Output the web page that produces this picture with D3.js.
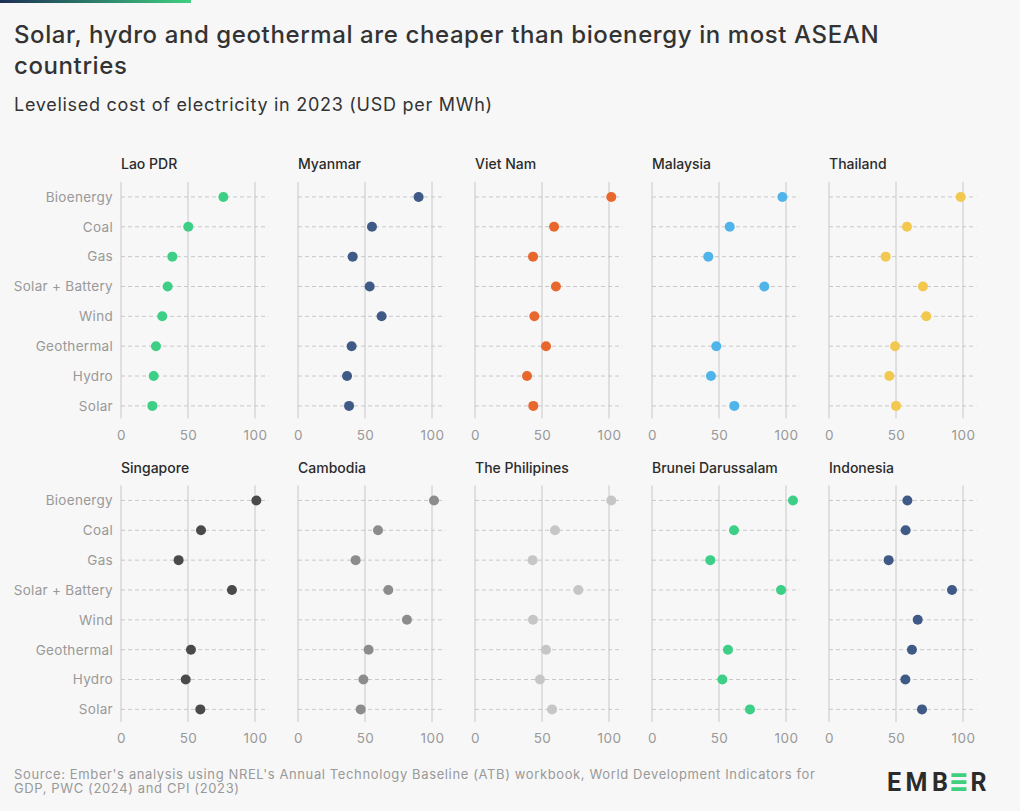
<!DOCTYPE html>
<html>
<head>
<meta charset="utf-8">
<script src="https://cdn.jsdelivr.net/npm/d3@7"></script>
<style>
  html, body { margin: 0; padding: 0; background: #f7f7f7; }
  svg { display: block; font-family: Inter, "Noto Sans", sans-serif; }
</style>
</head>
<body>
<svg id="chart" width="1020" height="811"></svg>
<script>
// ---- data ----
const technologies = ["Bioenergy", "Coal", "Gas", "Solar + Battery", "Wind", "Geothermal", "Hydro", "Solar"];
const countries = ["Lao PDR", "Myanmar", "Viet Nam", "Malaysia", "Thailand",
                   "Singapore", "Cambodia", "The Philipines", "Brunei Darussalam", "Indonesia"];
const countryColors = ["#3ccf85", "#3f5a87", "#e8672c", "#50b4ea", "#f2c84f",
                       "#4a4a4a", "#8c8c8c", "#c6c6c6", "#3ccf85", "#3f5a87"];
// LCOE, USD/MWh, order as technologies; null = no value
const laoPDR      = [76.4, 50.2, 38.3, 34.8, 30.8, 26.1, 24.4, 23.4];
const myanmar     = [90.0, 55.2, 40.8, 53.5, 62.4, 40.0, 36.6, 38.1];
const vietNam     = [101.7, 59.0, 43.3, 60.4, 44.3, 53.0, 38.8, 43.5];
const malaysia    = [97.3, 58.0, 42.0, 83.8, null, 48.0, 44.0, 61.4];
const thailand    = [98.3, 58.2, 42.3, 70.1, 72.6, 49.3, 45.0, 50.0];
const singapore   = [101.0, 59.7, 43.0, 82.8, null, 52.2, 48.3, 59.2];
const cambodia    = [101.5, 59.7, 43.0, 67.4, 81.3, 52.7, 48.8, 46.8];
const philippines = [101.7, 59.7, 43.0, 77.1, 43.3, 53.0, 48.5, 57.5];
const brunei      = [105.2, 61.2, 43.5, 96.3, null, 56.7, 52.5, 73.1];
const indonesia   = [58.5, 57.2, 44.5, 91.8, 66.2, 61.9, 57.0, 69.4];
const seriesValues = [laoPDR, myanmar, vietNam, malaysia, thailand,
                      singapore, cambodia, philippines, brunei, indonesia];
const xTicks = [0, 50, 100];
const xDomain = [0, 110];

const titleText1 = "Solar, hydro and geothermal are cheaper than bioenergy in most ASEAN";
const titleText2 = "countries";
const subtitleText = "Levelised cost of electricity in 2023 (USD per MWh)";
const sourceLine1 = "Source: Ember's analysis using NREL's Annual Technology Baseline (ATB) workbook, World Development Indicators for";
const sourceLine2 = "GDP, PWC (2024) and CPI (2023)";

// ---- layout ----
const svg = d3.select("#chart");
const W = 1020, H = 811;
const FONT = "Inter, 'Noto Sans', sans-serif";
svg.append("rect").attr("width", W).attr("height", H).attr("fill", "#f7f7f7");

const grad = svg.append("defs").append("linearGradient").attr("id", "topbar");
grad.append("stop").attr("offset", "0%").attr("stop-color", "#1c2f55");
grad.append("stop").attr("offset", "100%").attr("stop-color", "#3ecf80");
svg.append("rect").attr("x", 0).attr("y", 0).attr("width", 191).attr("height", 3).attr("fill", "url(#topbar)");

svg.append("text").attr("x", 14).attr("y", 42.5).attr("font-size", 24).attr("font-weight", 500)
  .attr("letter-spacing", 0.6).attr("fill", "#333").text(titleText1);
svg.append("text").attr("x", 14).attr("y", 73.5).attr("font-size", 24).attr("font-weight", 500)
  .attr("letter-spacing", 0.6).attr("fill", "#333").text(titleText2);
svg.append("text").attr("x", 14).attr("y", 111).attr("font-size", 18).attr("font-weight", 400)
  .attr("letter-spacing", 0.72).attr("fill", "#333").text(subtitleText);

const colX0 = [121, 298, 475, 652, 829];
const rowTop = [182, 485.5];
const panelW = 147.4;
const panelH = 238.8;

const x = d3.scaleLinear().domain(xDomain).range([0, panelW]);
const y = d3.scalePoint().domain(technologies).range([0, panelH]).padding(0.5);

countries.forEach((country, i) => {
  const col = i % 5, row = Math.floor(i / 5);
  const g = svg.append("g").attr("transform", `translate(${colX0[col]},${rowTop[row]})`);
  const yFirst = y(technologies[0]), yLast = y(technologies[technologies.length - 1]);

  // vertical grid lines
  g.selectAll("line.vg").data(xTicks).join("line")
    .attr("x1", d => x(d)).attr("x2", d => x(d))
    .attr("y1", yFirst - 15).attr("y2", yLast + 12.5)
    .attr("stroke", "#c8c8c8").attr("stroke-width", 1);

  // horizontal dashed lines
  g.selectAll("line.hg").data(technologies).join("line")
    .attr("x1", 0).attr("x2", panelW)
    .attr("y1", d => y(d)).attr("y2", d => y(d))
    .attr("stroke", "#c8c8c8").attr("stroke-width", 1).attr("stroke-dasharray", "4,3");

  // x axis labels
  const xAxis = d3.axisBottom(x).tickValues(xTicks).tickSize(0).tickPadding(0);
  const ax = g.append("g").attr("transform", `translate(0,${yLast + 24.5})`).call(xAxis);
  ax.select(".domain").remove();
  ax.selectAll("text").attr("font-size", 13.5).attr("letter-spacing", 0.5).attr("fill", "#999")
    .attr("font-family", FONT);

  // y axis labels (first column only)
  if (col === 0) {
    const yAxis = d3.axisLeft(y).tickSize(0).tickPadding(8);
    const ay = g.append("g").call(yAxis);
    ay.select(".domain").remove();
    ay.selectAll("text").attr("font-size", 13.5).attr("letter-spacing", 0.3).attr("fill", "#999")
      .attr("font-family", FONT);
  }

  // panel title
  g.append("text").attr("x", 0).attr("y", yFirst - 27.5)
    .attr("font-size", 14).attr("font-weight", 500).attr("fill", "#2b2b2b").text(country);

  // dots
  const pts = technologies.map((t, j) => ({ t, v: seriesValues[i][j] })).filter(d => d.v !== null);
  g.selectAll("circle").data(pts).join("circle")
    .attr("cx", d => x(d.v)).attr("cy", d => y(d.t)).attr("r", 5)
    .attr("fill", countryColors[i]);
});

// footer
svg.append("text").attr("x", 14).attr("y", 779).attr("font-size", 13).attr("letter-spacing", 0.62)
  .attr("fill", "#999").text(sourceLine1);
svg.append("text").attr("x", 14).attr("y", 793).attr("font-size", 13).attr("letter-spacing", 0.62)
  .attr("fill", "#999").text(sourceLine2);

// logo
const logo = svg.append("g").attr("transform", "translate(887,791)");
const t1 = logo.append("text").attr("x", 0).attr("y", 0).attr("font-size", 25).attr("font-weight", 700)
  .attr("letter-spacing", 4.5).attr("fill", "#2b2b2b").attr("font-family", "'Roboto', sans-serif").text("EMB");
const w1 = t1.node().getComputedTextLength();
const barW = 15, barH = 3.8;
[0, 1, 2].forEach(k => {
  logo.append("rect").attr("x", w1 - 1).attr("y", -17.8 + k * 7).attr("width", barW).attr("height", barH)
    .attr("fill", "#3ecf80");
});
logo.append("text").attr("x", w1 + barW + 3).attr("y", 0).attr("font-size", 25).attr("font-weight", 700)
  .attr("fill", "#2b2b2b").attr("font-family", "'Roboto', sans-serif").text("R");
</script>
</body>
</html>
